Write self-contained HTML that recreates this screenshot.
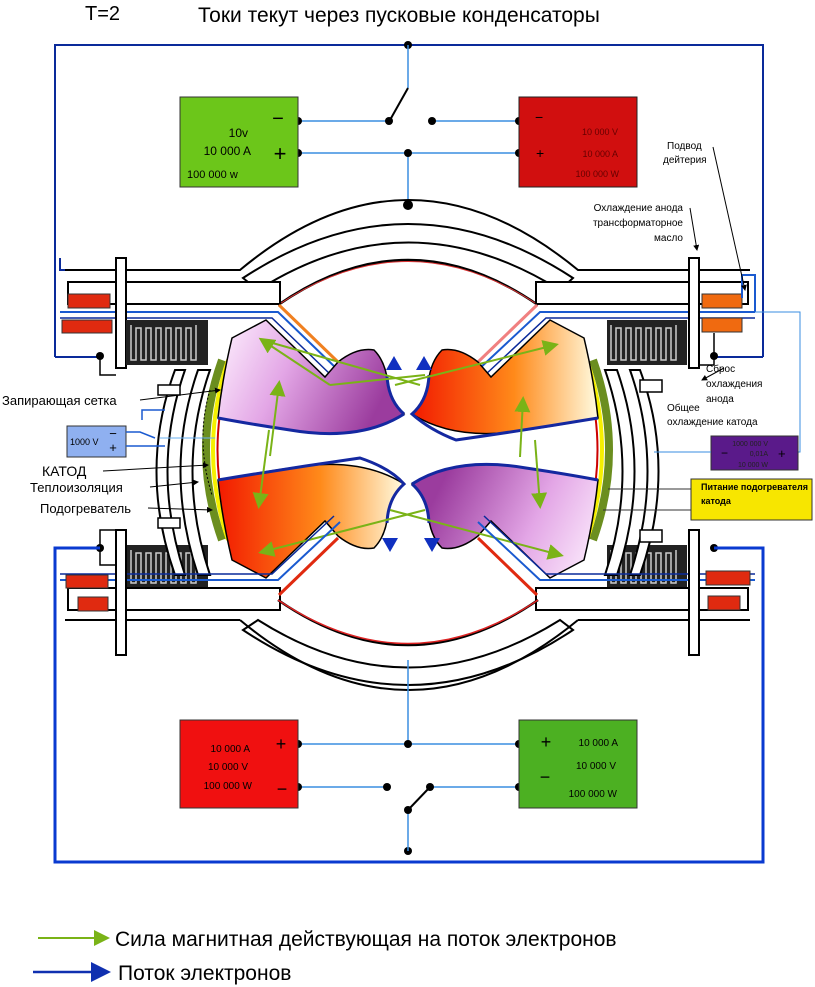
<!DOCTYPE html>
<html><head><meta charset="utf-8"><style>
html,body{margin:0;padding:0;background:#fff}
svg{display:block}
text{font-family:"Liberation Sans","DejaVu Sans",sans-serif}
</style></head><body>
<svg width="815" height="987" viewBox="0 0 815 987" xmlns="http://www.w3.org/2000/svg">
<defs>
<linearGradient id="pur" x1="0" y1="0" x2="1" y2="0.3">
<stop offset="0" stop-color="#fff4ff"/><stop offset="0.45" stop-color="#e3a6e6"/><stop offset="1" stop-color="#9b3c9e"/></linearGradient>
<linearGradient id="org" x1="1" y1="0" x2="0" y2="0">
<stop offset="0" stop-color="#fffbe0"/><stop offset="0.45" stop-color="#ff8a1a"/><stop offset="1" stop-color="#f21a00"/></linearGradient>
<marker id="ga" markerWidth="8" markerHeight="8" refX="6" refY="4" orient="auto"><path d="M0,0 L8,4 L0,8 Z" fill="#7ab317"/></marker>
<marker id="ba" markerWidth="8" markerHeight="8" refX="6" refY="4" orient="auto"><path d="M0,0 L8,4 L0,8 Z" fill="#1030b0"/></marker>
<marker id="ka" markerWidth="6" markerHeight="6" refX="5" refY="3" orient="auto"><path d="M0,0 L6,3 L0,6 Z" fill="#000"/></marker>
<g id="lobeP">
<path d="M232,338 L266,320 L325,377 L338,362 Q357,347 374,350 Q386,362 388,385 Q393,405 404,414 Q360,442 290,430 Q250,424 218,418 Q222,380 232,338 Z" fill="url(#pur)" stroke="#000" stroke-width="1.5"/>
<path d="M218,418 Q250,424 290,430 Q360,442 404,414" fill="none" stroke="#1428a0" stroke-width="3"/>
<path d="M404,414 Q388,400 387,375" fill="none" stroke="#1428a0" stroke-width="3"/>
</g>
</defs>

<!-- title -->
<text x="85" y="20" font-size="20">T=2</text>
<text x="198" y="22" font-size="21">Токи текут через пусковые конденсаторы</text>

<!-- top blue frame -->
<path d="M55,357 L55,45 L763,45 L763,357" fill="none" stroke="#0a2a9a" stroke-width="2"/>
<path d="M55,357 L100,357" fill="none" stroke="#0a2a9a" stroke-width="2"/>
<path d="M763,357 L716,357" fill="none" stroke="#0a2a9a" stroke-width="2"/>
<circle cx="408" cy="45" r="4" fill="#000"/>
<line x1="408" y1="45" x2="408" y2="88" stroke="#3a8ee0" stroke-width="1.5"/>
<line x1="408" y1="88" x2="390" y2="120" stroke="#000" stroke-width="2"/>
<line x1="408" y1="152" x2="408" y2="205" stroke="#3a8ee0" stroke-width="1.5"/>
<circle cx="408" cy="205" r="5" fill="#000"/>
<line x1="298" y1="121" x2="390" y2="121" stroke="#3a8ee0" stroke-width="1.5"/>
<line x1="432" y1="121" x2="519" y2="121" stroke="#3a8ee0" stroke-width="1.5"/>
<line x1="298" y1="153" x2="519" y2="153" stroke="#3a8ee0" stroke-width="1.5"/>
<circle cx="298" cy="121" r="4" fill="#000"/><circle cx="298" cy="153" r="4" fill="#000"/>
<circle cx="389" cy="121" r="4" fill="#000"/><circle cx="432" cy="121" r="4" fill="#000"/>
<circle cx="408" cy="153" r="4" fill="#000"/>
<circle cx="519" cy="121" r="4" fill="#000"/><circle cx="519" cy="153" r="4" fill="#000"/>

<rect x="180" y="97" width="118" height="90" fill="#6cc61a" stroke="#333"/>
<text x="278" y="125" font-size="20" text-anchor="middle">−</text>
<text x="280" y="161" font-size="22" text-anchor="middle">+</text>
<text x="248" y="137" font-size="12" text-anchor="end">10v</text>
<text x="251" y="155" font-size="12" text-anchor="end">10 000 A</text>
<text x="187" y="178" font-size="11">100 000 w</text>
<rect x="519" y="97" width="118" height="90" fill="#d10f0f" stroke="#222"/>
<text x="535" y="122" font-size="14">−</text>
<text x="536" y="158" font-size="14">+</text>
<text x="618" y="135" font-size="9" text-anchor="end" fill="#600">10 000 V</text>
<text x="618" y="157" font-size="9" text-anchor="end" fill="#600">10 000 A</text>
<text x="619" y="177" font-size="9" text-anchor="end" fill="#600">100 000 W</text>

<!-- top arches -->
<path d="M60,258 L60,270 L66,270" fill="none" stroke="#0a2a9a" stroke-width="2"/>
<path d="M65,270 L240,270 Q408,130 578,270 L750,270" fill="none" stroke="#000" stroke-width="2"/>
<path d="M243,278 Q408,170 573,278 L560,290 Q408,195 258,290 Z" fill="#fff" stroke="#000" stroke-width="2"/>
<path d="M278,305 Q408,215 538,305" fill="none" stroke="#000" stroke-width="2.5"/>
<path d="M278,305 Q408,218 538,305" fill="none" stroke="#d33" stroke-width="1"/>
<!-- top pipes -->
<rect x="68" y="282" width="212" height="22" fill="#fff" stroke="#000" stroke-width="2"/>
<rect x="536" y="282" width="212" height="22" fill="#fff" stroke="#000" stroke-width="2"/>
<path d="M60,312 L278,312 L338,370" fill="none" stroke="#1a5ad0" stroke-width="2"/>
<path d="M60,318 L272,318 L332,376" fill="none" stroke="#0a2a9a" stroke-width="1.5"/>
<path d="M755,312 L540,312 L478,370" fill="none" stroke="#1a5ad0" stroke-width="2"/>
<path d="M755,318 L546,318 L484,376" fill="none" stroke="#0a2a9a" stroke-width="1.5"/>
<line x1="279" y1="305" x2="338" y2="362" stroke="#f08020" stroke-width="3"/>
<line x1="537" y1="305" x2="478" y2="362" stroke="#f08080" stroke-width="3"/>
<rect x="116" y="258" width="10" height="110" fill="#fff" stroke="#000" stroke-width="2"/>
<rect x="689" y="258" width="10" height="110" fill="#fff" stroke="#000" stroke-width="2"/>
<rect x="68" y="294" width="42" height="14" fill="#e02a10" stroke="#333"/>
<rect x="62" y="320" width="50" height="13" fill="#e02a10" stroke="#333"/>
<rect x="702" y="294" width="40" height="14" fill="#f06a10" stroke="#333"/>
<rect x="702" y="318" width="40" height="14" fill="#f06a10" stroke="#333"/>
<path d="M742,298 L742,275 L755,275 L755,312" fill="none" stroke="#1a5ad0" stroke-width="2"/>
<path d="M755,312 L800,312 L800,452 L790,452" fill="none" stroke="#3a8ee0" stroke-width="1"/>
<circle cx="100" cy="356" r="4" fill="#000"/><circle cx="714" cy="356" r="4" fill="#000"/>
<path d="M100,356 L100,375 L116,375" fill="none" stroke="#000" stroke-width="1.5"/>
<path d="M714,333 L714,365 L699,365" fill="none" stroke="#000" stroke-width="1.5"/>

<!-- coils -->
<g>
<rect x="126" y="320" width="82" height="45" fill="#222"/>
<path d="M131,325 v35 h5 v-32 h5 v32 h5 v-32 h5 v32 h5 v-32 h5 v32 h5 v-32 h5 v32 h5 v-32 h5 v32 h5 v-32 h5 v32 h5 v-35" fill="none" stroke="#ccc" stroke-width="1.5"/>
<rect x="607" y="320" width="80" height="45" fill="#222"/>
<path d="M611,325 v35 h5 v-32 h5 v32 h5 v-32 h5 v32 h5 v-32 h5 v32 h5 v-32 h5 v32 h5 v-32 h5 v32 h5 v-32 h5 v32 h5 v-35" fill="none" stroke="#ccc" stroke-width="1.5"/>
<rect x="126" y="545" width="82" height="42" fill="#222"/>
<path d="M131,550 v33 h5 v-30 h5 v30 h5 v-30 h5 v30 h5 v-30 h5 v30 h5 v-30 h5 v30 h5 v-30 h5 v30 h5 v-30 h5 v30 h5 v-33" fill="none" stroke="#ccc" stroke-width="1.5"/>
<rect x="607" y="545" width="80" height="42" fill="#222"/>
<path d="M611,550 v33 h5 v-30 h5 v30 h5 v-30 h5 v30 h5 v-30 h5 v30 h5 v-30 h5 v30 h5 v-30 h5 v30 h5 v-30 h5 v30 h5 v-33" fill="none" stroke="#ccc" stroke-width="1.5"/>
</g>

<!-- cathode housings -->
<path d="M175,370 L185,370 Q150,470 185,575 L175,575 Q138,470 175,370 Z" fill="#fff" stroke="#000" stroke-width="2"/>
<path d="M198,370 L210,370 Q175,470 210,575 L198,575 Q163,470 198,370 Z" fill="#fff" stroke="#000" stroke-width="2"/>
<path d="M640,370 L630,370 Q665,470 630,575 L640,575 Q677,470 640,370 Z" fill="#fff" stroke="#000" stroke-width="2"/>
<path d="M617,370 L605,370 Q640,470 605,575 L617,575 Q652,470 617,370 Z" fill="#fff" stroke="#000" stroke-width="2"/>
<rect x="158" y="385" width="22" height="10" fill="#fff" stroke="#000" stroke-width="1.5"/>
<rect x="158" y="518" width="22" height="10" fill="#fff" stroke="#000" stroke-width="1.5"/>
<rect x="640" y="380" width="22" height="12" fill="#fff" stroke="#000" stroke-width="1.5"/>
<rect x="640" y="530" width="22" height="12" fill="#fff" stroke="#000" stroke-width="1.5"/>
<!-- cathode layers -->
<path d="M222,360 Q190,450 222,540" fill="none" stroke="#6b8e1f" stroke-width="8"/>
<path d="M228,360 Q198,450 228,540" fill="none" stroke="#f5f000" stroke-width="4"/>
<path d="M232,362 Q203,450 232,538" fill="none" stroke="#c00" stroke-width="2"/>
<path d="M593,360 Q625,450 593,540" fill="none" stroke="#6b8e1f" stroke-width="8"/>
<path d="M587,360 Q617,450 587,540" fill="none" stroke="#f5f000" stroke-width="4"/>
<path d="M583,362 Q612,450 583,538" fill="none" stroke="#c00" stroke-width="2"/>

<!-- lobes -->
<use href="#lobeP"/>
<g transform="translate(816,0) scale(-1,1)">
<path d="M232,338 L266,320 L325,377 L338,362 Q357,347 374,350 Q386,362 388,385 Q393,405 404,414 Q360,442 290,430 Q250,424 218,418 Q222,380 232,338 Z" fill="url(#org)" stroke="#000" stroke-width="1.5" transform="translate(816,0) scale(-1,1)" style="display:none"/>
</g>
<path d="M584,338 L550,320 L491,377 L478,362 Q459,347 442,350 Q430,362 428,385 Q423,405 412,414 Q456,442 526,430 Q566,424 598,418 Q594,380 584,338 Z" fill="url(#org)" stroke="#000" stroke-width="1.5"/>
<path d="M598,418 Q526,430 456,440 Q430,430 412,414 Q428,400 429,375" fill="none" stroke="#1428a0" stroke-width="3"/>
<g transform="translate(0,898) scale(1,-1)">
<path d="M232,338 L266,320 L325,377 L338,362 Q357,347 374,350 Q386,362 388,385 Q393,405 404,414 Q360,442 290,430 Q250,424 218,418 Q222,380 232,338 Z" fill="url(#org)" stroke="#000" stroke-width="1.5"/>
<path d="M218,418 Q290,430 360,440 Q390,430 404,414 Q388,400 387,375" fill="none" stroke="#1428a0" stroke-width="3"/>
<use href="#lobeP" transform="translate(816,0) scale(-1,1)"/>
</g>
<!-- blue arrows at center -->
<path d="M394,356 l-8,14 h16 Z M424,356 l-8,14 h16 Z" fill="#1030c0"/>
<path d="M390,552 l-8,-14 h16 Z M432,552 l-8,-14 h16 Z" fill="#1030c0"/>

<!-- green force arrows -->
<g stroke="#7ab317" stroke-width="2" fill="none">
<line x1="330" y1="385" x2="262" y2="340" marker-end="url(#ga)"/>
<line x1="330" y1="385" x2="425" y2="375"/>
<line x1="262" y1="340" x2="420" y2="385"/>
<line x1="395" y1="385" x2="555" y2="345" marker-end="url(#ga)"/>
<line x1="270" y1="456" x2="279" y2="384" marker-end="url(#ga)"/>
<line x1="269" y1="430" x2="259" y2="505" marker-end="url(#ga)"/>
<line x1="520" y1="457" x2="523" y2="400" marker-end="url(#ga)"/>
<line x1="535" y1="440" x2="540" y2="505" marker-end="url(#ga)"/>
<line x1="425" y1="510" x2="262" y2="552" marker-end="url(#ga)"/>
<line x1="390" y1="510" x2="560" y2="555" marker-end="url(#ga)"/>
</g>
<path d="M210,390 Q195,440 212,495" fill="none" stroke="#000" stroke-dasharray="2,2"/>

<!-- bottom pipes / arches -->
<path d="M60,580 L278,580 L340,522" fill="none" stroke="#1a5ad0" stroke-width="2"/>
<path d="M60,574 L272,574 L334,516" fill="none" stroke="#0a2a9a" stroke-width="1.5"/>
<path d="M755,580 L540,580 L478,522" fill="none" stroke="#1a5ad0" stroke-width="2"/>
<path d="M755,574 L546,574 L484,516" fill="none" stroke="#0a2a9a" stroke-width="1.5"/>
<rect x="68" y="588" width="212" height="22" fill="#fff" stroke="#000" stroke-width="2"/>
<rect x="536" y="588" width="212" height="22" fill="#fff" stroke="#000" stroke-width="2"/>
<line x1="279" y1="595" x2="338" y2="538" stroke="#e02a10" stroke-width="3"/>
<line x1="537" y1="595" x2="478" y2="538" stroke="#e02a10" stroke-width="3"/>
<path d="M278,600 Q408,690 538,600" fill="none" stroke="#000" stroke-width="2.5"/>
<path d="M278,600 Q408,687 538,600" fill="none" stroke="#d22" stroke-width="1.5"/>
<path d="M258,620 Q408,715 560,620 L573,630 Q408,740 243,630 Z" fill="#fff" stroke="#000" stroke-width="2"/>
<path d="M240,620 L65,620 M578,620 L750,620 M240,620 Q408,760 578,620" fill="none" stroke="#000" stroke-width="2"/>
<rect x="116" y="530" width="10" height="125" fill="#fff" stroke="#000" stroke-width="2"/>
<rect x="689" y="530" width="10" height="125" fill="#fff" stroke="#000" stroke-width="2"/>
<rect x="66" y="575" width="42" height="13" fill="#e02a10" stroke="#333"/>
<rect x="78" y="597" width="30" height="14" fill="#e02a10" stroke="#333"/>
<rect x="706" y="571" width="44" height="14" fill="#e02a10" stroke="#333"/>
<rect x="708" y="596" width="32" height="14" fill="#e02a10" stroke="#333"/>
<circle cx="100" cy="548" r="4" fill="#000"/><circle cx="714" cy="548" r="4" fill="#000"/>
<path d="M100,548 L100,530 L116,530 M100,548 L100,565 L116,565" fill="none" stroke="#000" stroke-width="1.5"/>

<!-- bottom blue frame -->
<path d="M100,548 L55,548 L55,862 L763,862 L763,548 L714,548" fill="none" stroke="#0a3ad0" stroke-width="3"/>
<circle cx="408" cy="851" r="4" fill="#000"/>
<line x1="408" y1="660" x2="408" y2="744" stroke="#3a8ee0" stroke-width="1.5"/>
<line x1="408" y1="810" x2="408" y2="851" stroke="#3a8ee0" stroke-width="1.5"/>
<line x1="408" y1="810" x2="430" y2="787" stroke="#000" stroke-width="2"/>
<line x1="298" y1="744" x2="519" y2="744" stroke="#3a8ee0" stroke-width="1.5"/>
<line x1="298" y1="787" x2="387" y2="787" stroke="#3a8ee0" stroke-width="1.5"/>
<line x1="430" y1="787" x2="519" y2="787" stroke="#3a8ee0" stroke-width="1.5"/>
<circle cx="298" cy="744" r="4" fill="#000"/><circle cx="298" cy="787" r="4" fill="#000"/>
<circle cx="408" cy="744" r="4" fill="#000"/><circle cx="387" cy="787" r="4" fill="#000"/>
<circle cx="430" cy="787" r="4" fill="#000"/><circle cx="408" cy="810" r="4" fill="#000"/>
<circle cx="519" cy="744" r="4" fill="#000"/><circle cx="519" cy="787" r="4" fill="#000"/>
<rect x="180" y="720" width="118" height="88" fill="#f01010" stroke="#333"/>
<text x="281" y="750" font-size="18" text-anchor="middle">+</text>
<text x="282" y="795" font-size="18" text-anchor="middle">−</text>
<text x="250" y="752" font-size="10" text-anchor="end">10 000 A</text>
<text x="248" y="770" font-size="10" text-anchor="end">10 000 V</text>
<text x="252" y="789" font-size="10" text-anchor="end">100 000 W</text>
<rect x="519" y="720" width="118" height="88" fill="#4cb022" stroke="#333"/>
<text x="546" y="748" font-size="18" text-anchor="middle">+</text>
<text x="545" y="783" font-size="18" text-anchor="middle">−</text>
<text x="618" y="746" font-size="10" text-anchor="end">10 000 A</text>
<text x="616" y="769" font-size="10" text-anchor="end">10 000 V</text>
<text x="617" y="797" font-size="10" text-anchor="end">100 000 W</text>

<!-- left 1000V box -->
<rect x="67" y="426" width="59" height="31" fill="#8fb0f0" stroke="#333"/>
<text x="70" y="445" font-size="9">1000 V</text>
<text x="113" y="438" font-size="13" text-anchor="middle">−</text>
<text x="113" y="452" font-size="13" text-anchor="middle">+</text>
<path d="M126,432 L140,432 L155,438 M126,446 L165,446" fill="none" stroke="#1a5ad0" stroke-width="1.5"/>
<path d="M142,420 L142,410 L165,410" fill="none" stroke="#1a5ad0" stroke-width="1.5"/>
<line x1="160" y1="438" x2="215" y2="438" stroke="#6ab0f0" stroke-width="1"/>

<!-- right boxes -->
<rect x="711" y="436" width="87" height="34" fill="#5a1a8a" stroke="#333"/>
<text x="768" y="446" font-size="7" text-anchor="end" fill="#222">1000 000 V</text>
<text x="768" y="456" font-size="7" text-anchor="end" fill="#222">0,01A</text>
<text x="768" y="467" font-size="7" text-anchor="end" fill="#222">10 000 W</text>
<text x="721" y="457" font-size="12">−</text><text x="778" y="458" font-size="13">+</text>
<line x1="654" y1="452" x2="711" y2="452" stroke="#3a8ee0" stroke-width="1"/>
<rect x="691" y="479" width="121" height="41" fill="#f7e600" stroke="#333"/>
<text x="701" y="490" font-size="9" font-weight="bold">Питание подогревателя</text>
<text x="701" y="504" font-size="9" font-weight="bold">катода</text>
<line x1="608" y1="489" x2="691" y2="489" stroke="#333" stroke-width="1"/>
<line x1="603" y1="510" x2="691" y2="510" stroke="#333" stroke-width="1"/>

<!-- labels left -->
<g font-size="13">
<text x="2" y="405">Запирающая сетка</text>
<text x="42" y="476" font-size="14">КАТОД</text>
<text x="30" y="492">Теплоизоляция</text>
<text x="40" y="513">Подогреватель</text>
</g>
<g stroke="#000" stroke-width="1" fill="none">
<line x1="140" y1="400" x2="220" y2="390" marker-end="url(#ka)"/>
<line x1="103" y1="471" x2="208" y2="465" marker-end="url(#ka)"/>
<line x1="150" y1="487" x2="198" y2="482" marker-end="url(#ka)"/>
<line x1="148" y1="508" x2="212" y2="510" marker-end="url(#ka)"/>
</g>
<!-- labels right -->
<g font-size="10">
<text x="667" y="149">Подвод</text>
<text x="663" y="163">дейтерия</text>
<text x="683" y="211" text-anchor="end">Охлаждение анода</text>
<text x="683" y="226" text-anchor="end">трансформаторное</text>
<text x="683" y="241" text-anchor="end">масло</text>
<text x="706" y="372">Сброс</text>
<text x="706" y="387">охлаждения</text>
<text x="706" y="402">анода</text>
<text x="667" y="411">Общее</text>
<text x="667" y="425">охлаждение катода</text>
</g>
<g stroke="#000" stroke-width="1" fill="none">
<line x1="713" y1="147" x2="745" y2="290" marker-end="url(#ka)"/>
<line x1="690" y1="208" x2="697" y2="250" marker-end="url(#ka)"/>
<line x1="724" y1="368" x2="702" y2="380" marker-end="url(#ka)"/>
</g>

<!-- legend -->
<line x1="38" y1="938" x2="106" y2="938" stroke="#7ab317" stroke-width="2" marker-end="url(#ga)"/>
<text x="115" y="946" font-size="21">Сила магнитная действующая на поток электронов</text>
<line x1="33" y1="972" x2="106" y2="972" stroke="#1030b0" stroke-width="2.5" marker-end="url(#ba)"/>
<text x="118" y="980" font-size="21">Поток электронов</text>
</svg>
</body></html>
